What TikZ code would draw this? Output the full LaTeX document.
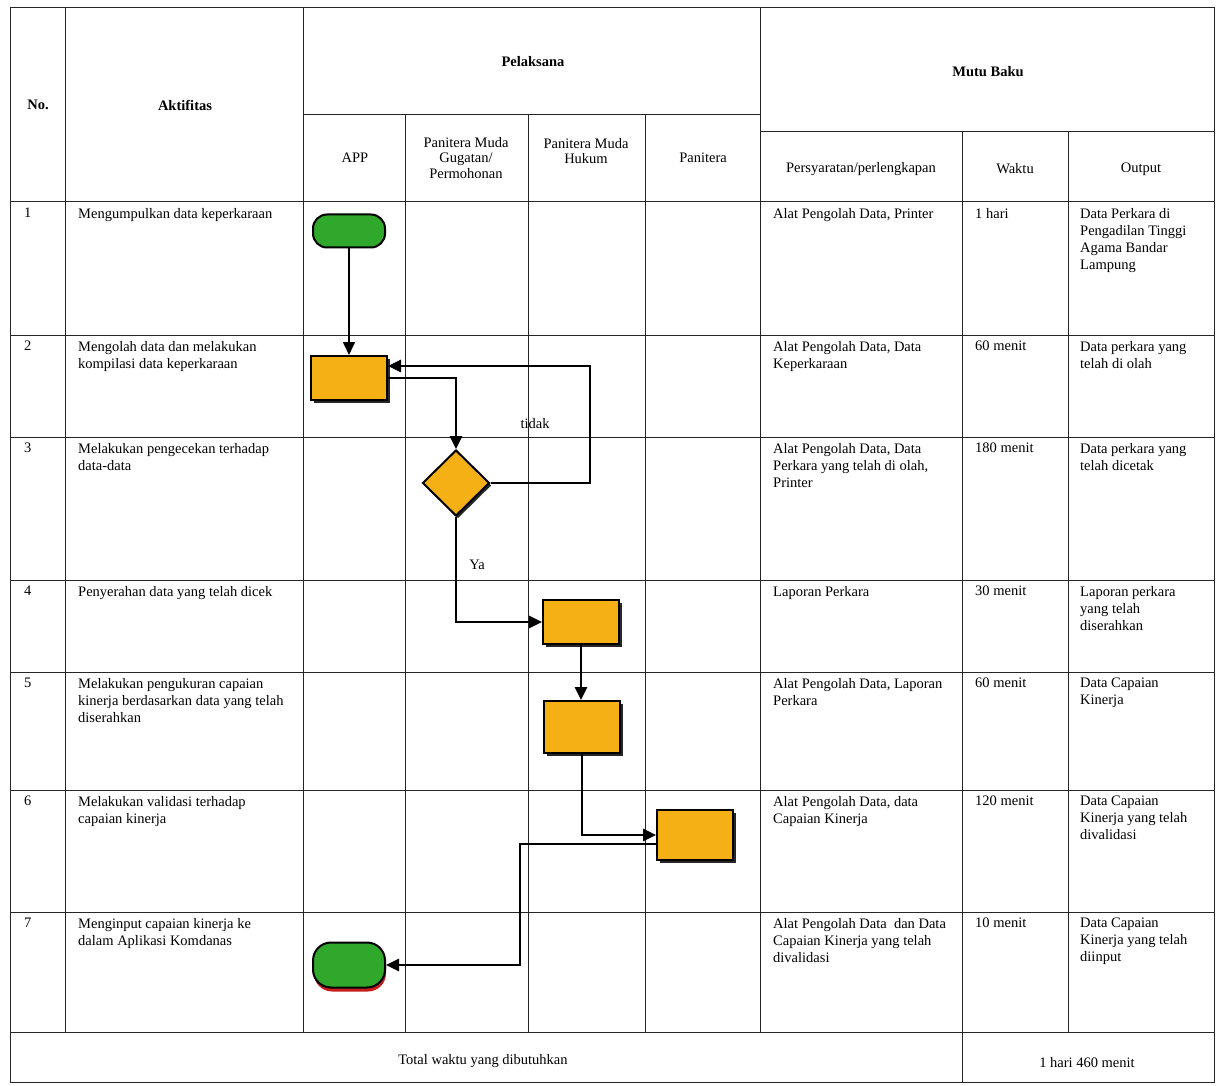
\documentclass[tikz,border=0pt]{standalone}
\usepackage{fontspec}
\setmainfont{Liberation Serif}
\usetikzlibrary{positioning,calc,shapes.geometric,shadows,arrows.meta}
\definecolor{boxorange}{RGB}{245,176,22}
\definecolor{termgreen}{RGB}{48,168,44}
\definecolor{shadered}{RGB}{200,30,30}

\begin{document}
\begin{tikzpicture}[x=1pt, y=-1pt,
  grid/.style={line width=1pt, black!85},
  cell/.style={anchor=north west, align=left, inner sep=0pt, font=\fontsize{14.5}{17}\selectfont},
  head/.style={align=center, inner sep=0pt, font=\fontsize{14.5}{15.5}\selectfont},
  bighead/.style={head, font=\fontsize{14.5}{15.5}\selectfont\bfseries},
  proc/.style={draw, line width=2pt, fill=boxorange, minimum width=76pt, minimum height=44pt,
    drop shadow={shadow xshift=2.5pt, shadow yshift=-2.5pt, fill=black!85, opacity=1}},
  decide/.style={diamond, draw, line width=2pt, fill=boxorange, minimum width=67pt, minimum height=66pt,
    drop shadow={shadow xshift=2pt, shadow yshift=-2.5pt, fill=black!85, opacity=1}},
  term/.style={draw, line width=2pt, fill=termgreen, minimum width=72pt, minimum height=33pt, rounded corners=14pt},
  flow/.style={line width=2.8pt, -{Triangle[length=13pt,width=12pt]}},
  flowthin/.style={line width=1.6pt, -{Triangle[length=13pt,width=12pt]}},
]
\useasboundingbox (0,0) rectangle (1219,1086);

% table grid
\draw[grid] (10,8) rectangle (1214,1082);
\draw[grid] (303,115) -- (760,115);
\draw[grid] (760,132) -- (1214,132);
\foreach \yy in {202,335,437,580,672,790,912,1032}
  \draw[grid] (10,\yy) -- (1214,\yy);
\foreach \xx in {65,303,760}
  \draw[grid] (\xx,8) -- (\xx,1032);
\foreach \xx in {405,528,645}
  \draw[grid] (\xx,115) -- (\xx,1032);
\draw[grid] (962,132) -- (962,1082);
\draw[grid] (1068,132) -- (1068,1032);

% header
\node[bighead] (hno) at (38,105) {No.};
\node[bighead] (hakt) at (185,105) {Aktifitas};
\node[bighead] (hpel) at (533,62) {Pelaksana};
\node[bighead] (hmutu) at (988,72) {Mutu Baku};
\node[head] (happ) at (355,158) {APP};
\node[head] (hgug) at (466,158) {Panitera Muda\\Gugatan/\\Permohonan};
\node[head] (hhuk) at (586,151) {Panitera Muda\\Hukum};
\node[head] (hpan) at (703,158) {Panitera};
\node[head] (hsyarat) at (861,169) {Persyaratan/perlengkapan};
\node[head] (hwaktu) at (1015,169) {Waktu};
\node[head] (hout) at (1141,169) {Output};

% row 1
\node[cell] (no1) at (24,208) {1};
\node[cell] (akt1) at (78,208) {Mengumpulkan data keperkaraan};
\node[cell] (syr1) at (773,208) {Alat Pengolah Data, Printer};
\node[cell] (wkt1) at (975,208) {1 hari};
\node[cell] (out1) at (1080,208) {Data Perkara di\\Pengadilan Tinggi\\Agama Bandar\\Lampung};
% row 2
\node[cell] (no2) at (24,341) {2};
\node[cell] (akt2) at (78,341) {Mengolah data dan melakukan\\kompilasi data keperkaraan};
\node[cell] (syr2) at (773,341) {Alat Pengolah Data, Data\\Keperkaraan};
\node[cell] (wkt2) at (975,341) {60 menit};
\node[cell] (out2) at (1080,341) {Data perkara yang\\telah di olah};
% row 3
\node[cell] (no3) at (24,443) {3};
\node[cell] (akt3) at (78,443) {Melakukan pengecekan terhadap\\data-data};
\node[cell] (syr3) at (773,443) {Alat Pengolah Data, Data\\Perkara yang telah di olah,\\Printer};
\node[cell] (wkt3) at (975,443) {180 menit};
\node[cell] (out3) at (1080,443) {Data perkara yang\\telah dicetak};
% row 4
\node[cell] (no4) at (24,586) {4};
\node[cell] (akt4) at (78,586) {Penyerahan data yang telah dicek};
\node[cell] (syr4) at (773,586) {Laporan Perkara};
\node[cell] (wkt4) at (975,586) {30 menit};
\node[cell] (out4) at (1080,586) {Laporan perkara\\yang telah\\diserahkan};
% row 5
\node[cell] (no5) at (24,678) {5};
\node[cell] (akt5) at (78,678) {Melakukan pengukuran capaian\\kinerja berdasarkan data yang telah\\diserahkan};
\node[cell] (syr5) at (773,678) {Alat Pengolah Data, Laporan\\Perkara};
\node[cell] (wkt5) at (975,678) {60 menit};
\node[cell] (out5) at (1080,678) {Data Capaian\\Kinerja};
% row 6
\node[cell] (no6) at (24,796) {6};
\node[cell] (akt6) at (78,796) {Melakukan validasi terhadap\\capaian kinerja};
\node[cell] (syr6) at (773,796) {Alat Pengolah Data, data\\Capaian Kinerja};
\node[cell] (wkt6) at (975,796) {120 menit};
\node[cell] (out6) at (1080,796) {Data Capaian\\Kinerja yang telah\\divalidasi};
% row 7
\node[cell] (no7) at (24,918) {7};
\node[cell] (akt7) at (78,918) {Menginput capaian kinerja ke\\dalam Aplikasi Komdanas};
\node[cell] (syr7) at (773,918) {Alat Pengolah Data\ \ dan Data\\Capaian Kinerja yang telah\\divalidasi};
\node[cell] (wkt7) at (975,918) {10 menit};
\node[cell] (out7) at (1080,918) {Data Capaian\\Kinerja yang telah\\diinput};
% total
\node[head] (total) at (483,1061) {Total waktu yang dibutuhkan};
\node[head] (totwkt) at (1087,1063) {1 hari 460 menit};

% flow
\node[term] (start) at (349,231) {};
\node[proc] (p1) at (349,378) {};
\node[decide] (dec) at (456,483) {};
\node[proc] (p2) at (581,622) {};
\node[proc, minimum height=52pt] (p3) at (582,727) {};
\node[proc, minimum height=50pt] (p4) at (695,835) {};
\node[term, minimum height=45pt, rounded corners=18pt,
  drop shadow={shadow xshift=1pt, shadow yshift=-4pt, fill=shadered, opacity=1}] (stop) at (349,965) {};

\coordinate (back) at (590,366);
\coordinate (drop) at (520,965);

\draw[flowthin] (start) -- (p1);
\draw[flow] (p1.east) -| (dec.north);
\draw[flow] (dec.east) -| (back) -- ([yshift=12pt]p1.east);
\draw[flow] (dec.south) |- (p2.west);
\draw[flow] (p2.south) -- (p2.south |- p3.north);
\draw[flow] (p3.south) |- (p4.west);
\draw[flow] ([yshift=-9pt]p4.west) -| (drop) -- (stop.east);

\node[head] (tidak) at (535,424) {tidak};
\node[head] (ya) at (477,565) {Ya};
\end{tikzpicture}
\end{document}
